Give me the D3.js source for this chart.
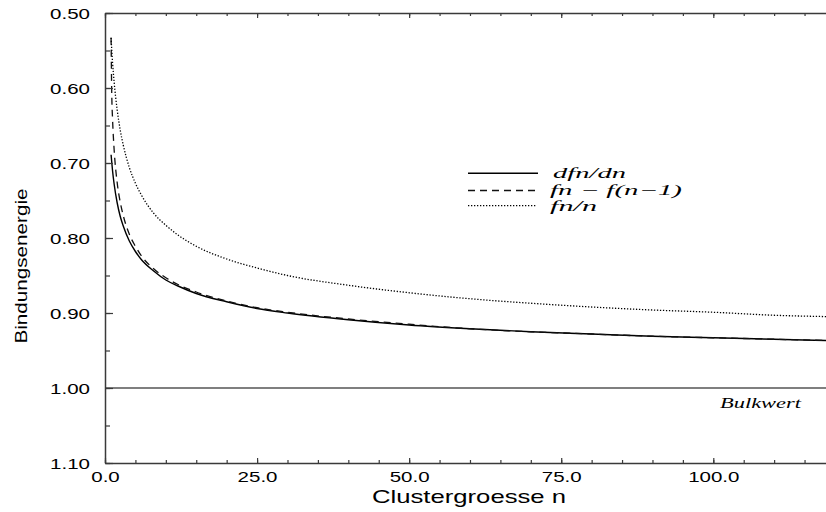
<!DOCTYPE html>
<html>
<head>
<meta charset="utf-8">
<script src="https://cdn.jsdelivr.net/npm/d3@7"></script>
<style>
  html, body { margin: 0; padding: 0; background: #fff; }
  svg { display: block; }
</style>
</head>
<body>
<svg id="chart" width="826" height="512"></svg>
<script>
// ---- data ----
const nValues = [1, 1.1, 1.25, 1.5, 2, 2.5, 3, 4, 5, 6, 8, 10, 12, 15, 20, 25, 30, 40, 50, 60, 70, 80, 90, 100, 110, 120];
const dfnDn   = [0.689, 0.698, 0.711, 0.728, 0.753, 0.771, 0.784, 0.804, 0.818, 0.829, 0.844, 0.856, 0.864, 0.874, 0.885, 0.894, 0.900, 0.909, 0.916, 0.921, 0.925, 0.928, 0.931, 0.933, 0.935, 0.937];
const fnDiff  = [0.533, 0.603, 0.643, 0.682, 0.726, 0.752, 0.770, 0.795, 0.811, 0.824, 0.841, 0.853, 0.862, 0.872, 0.884, 0.893, 0.899, 0.908, 0.915, 0.921, 0.925, 0.928, 0.931, 0.933, 0.935, 0.937];
const fnPerN  = [0.533, 0.548, 0.567, 0.592, 0.629, 0.656, 0.676, 0.706, 0.727, 0.743, 0.767, 0.783, 0.796, 0.811, 0.828, 0.840, 0.850, 0.863, 0.873, 0.881, 0.887, 0.892, 0.896, 0.899, 0.903, 0.905];
const bulkValue = 1.00;
const seriesNames = ["dfn/dn", "fn \u2212 f(n\u22121)", "fn/n"];
const xMajorTicks = [0, 25, 50, 75, 100];
const xMinorTicks = [0,5,10,15,20,25,30,35,40,45,50,55,60,65,70,75,80,85,90,95,100,105,110,115,120];
const yMajorTicks = [0.50, 0.60, 0.70, 0.80, 0.90, 1.00, 1.10];
const yMinorTicks = [0.50,0.55,0.60,0.65,0.70,0.75,0.80,0.85,0.90,0.95,1.00,1.05,1.10];
const xTitle = "Clustergroesse n";
const yTitle = "Bindungsenergie";
const bulkLabel = "Bulkwert";

// ---- layout ----
const svg = d3.select("#chart");
const pLeft = 105, pTop = 13, pBottom = 463, pRight = 826;
const x = d3.scaleLinear().domain([0, 120]).range([pLeft, pLeft + 120 * 6.083]);
const y = d3.scaleLinear().domain([0.5, 1.1]).range([pTop, pBottom]);
const axisColor = "#3a3a3a";
const SX = 1.333; // horizontal glyph stretch seen in the reference

svg.append("rect").attr("width", 826).attr("height", 512).attr("fill", "#fff");

svg.append("defs").append("clipPath").attr("id", "clip")
  .append("rect").attr("x", pLeft).attr("y", pTop).attr("width", pRight - pLeft).attr("height", pBottom - pTop);

// bulk line
svg.append("line")
  .attr("x1", x(0)).attr("x2", pRight)
  .attr("y1", y(bulkValue)).attr("y2", y(bulkValue))
  .attr("stroke", "#555").attr("stroke-width", 1.5);

// curves
const series = [
  {name: seriesNames[0], values: dfnDn, dash: null, width: 1.4, color: "#000"},
  {name: seriesNames[1], values: fnDiff, dash: "7,5", width: 1.3, color: "#111"},
  {name: seriesNames[2], values: fnPerN, dash: "1.3,1.7", width: 1.3, color: "#000"}
];
const line = d3.line().x(d => x(d[0])).y(d => y(d[1])).curve(d3.curveMonotoneX);
const g = svg.append("g").attr("clip-path", "url(#clip)");
series.forEach(s => {
  g.append("path")
    .datum(nValues.map((n, i) => [n, s.values[i]]))
    .attr("d", line)
    .attr("fill", "none")
    .attr("stroke", s.color)
    .attr("stroke-width", s.width)
    .attr("stroke-dasharray", s.dash);
});

function styleAxis(sel) {
  sel.select(".domain").attr("stroke", axisColor).attr("stroke-width", 1.5);
  sel.selectAll(".tick line").attr("stroke", axisColor).attr("stroke-width", 1.2);
}

// bottom axis
const xb1 = svg.append("g").attr("transform", `translate(0,${pBottom})`)
  .call(d3.axisBottom(x).tickValues(xMinorTicks).tickSize(-3).tickSizeOuter(0).tickFormat(""));
styleAxis(xb1);
const xb2 = svg.append("g").attr("transform", `translate(0,${pBottom})`)
  .call(d3.axisBottom(x).tickValues(xMajorTicks).tickSize(-5).tickSizeOuter(0).tickFormat(d3.format(".1f")));
styleAxis(xb2);
xb2.select(".domain").remove();
xb2.selectAll(".tick text")
  .attr("y", 19.5).attr("dy", 0)
  .attr("font-family", "Liberation Sans, Arial, sans-serif")
  .attr("font-size", 15.4).attr("fill", "#000")
  .attr("transform", `scale(${SX},1)`);

// top axis
const xt1 = svg.append("g").attr("transform", `translate(0,${pTop})`)
  .call(d3.axisTop(x).tickValues(xMinorTicks).tickSize(-3).tickSizeOuter(0).tickFormat(""));
styleAxis(xt1);
const xt2 = svg.append("g").attr("transform", `translate(0,${pTop})`)
  .call(d3.axisTop(x).tickValues(xMajorTicks).tickSize(-5).tickSizeOuter(0).tickFormat(""));
styleAxis(xt2);
xt2.select(".domain").remove();

// left axis
const yl1 = svg.append("g").attr("transform", `translate(${pLeft},0)`)
  .call(d3.axisLeft(y).tickValues(yMinorTicks).tickSize(-5).tickSizeOuter(0).tickFormat(""));
styleAxis(yl1);
const yl2 = svg.append("g").attr("transform", `translate(${pLeft},0)`)
  .call(d3.axisLeft(y).tickValues(yMajorTicks).tickSize(-8).tickSizeOuter(0).tickFormat(d3.format(".2f")));
styleAxis(yl2);
yl2.select(".domain").remove();
yl2.selectAll(".tick text")
  .attr("x", -15 / SX).attr("dy", "0.36em")
  .attr("font-family", "Liberation Sans, Arial, sans-serif")
  .attr("font-size", 15.4).attr("fill", "#000")
  .attr("transform", `scale(${SX},1)`);

// axis titles
svg.append("text")
  .attr("x", 469).attr("y", 503)
  .attr("text-anchor", "middle")
  .attr("font-family", "Liberation Sans, Arial, sans-serif")
  .attr("font-size", 19)
  .attr("textLength", 194).attr("lengthAdjust", "spacingAndGlyphs")
  .text(xTitle);

svg.append("text")
  .attr("transform", "translate(27,266) rotate(-90)")
  .attr("text-anchor", "middle")
  .attr("font-family", "Liberation Sans, Arial, sans-serif")
  .attr("font-size", 17)
  .attr("textLength", 155).attr("lengthAdjust", "spacingAndGlyphs")
  .text(yTitle);

// bulk label
svg.append("text")
  .attr("x", 720).attr("y", 408)
  .attr("font-family", "Liberation Serif, Times New Roman, serif")
  .attr("font-style", "italic")
  .attr("font-size", 15)
  .attr("textLength", 81).attr("lengthAdjust", "spacingAndGlyphs")
  .text(bulkLabel);

// legend
const legendRows = [
  {ly: 173.3, ty: 178, tx: 553, tw: 73, x2: 538},
  {ly: 190.5, ty: 195, tx: 550, tw: 132, x2: 538},
  {ly: 205.7, ty: 210.5, tx: 550, tw: 47, x2: 536}
];
series.forEach((s, i) => {
  const r = legendRows[i];
  svg.append("line")
    .attr("x1", 468).attr("x2", r.x2)
    .attr("y1", r.ly).attr("y2", r.ly)
    .attr("stroke", s.color).attr("stroke-width", s.width)
    .attr("stroke-dasharray", s.dash);
  svg.append("text")
    .attr("x", r.tx).attr("y", r.ty)
    .attr("font-family", "Liberation Serif, Times New Roman, serif")
    .attr("font-style", "italic")
    .attr("font-size", 14.5)
    .attr("textLength", r.tw).attr("lengthAdjust", "spacingAndGlyphs")
    .text(s.name);
});
</script>
</body>
</html>
